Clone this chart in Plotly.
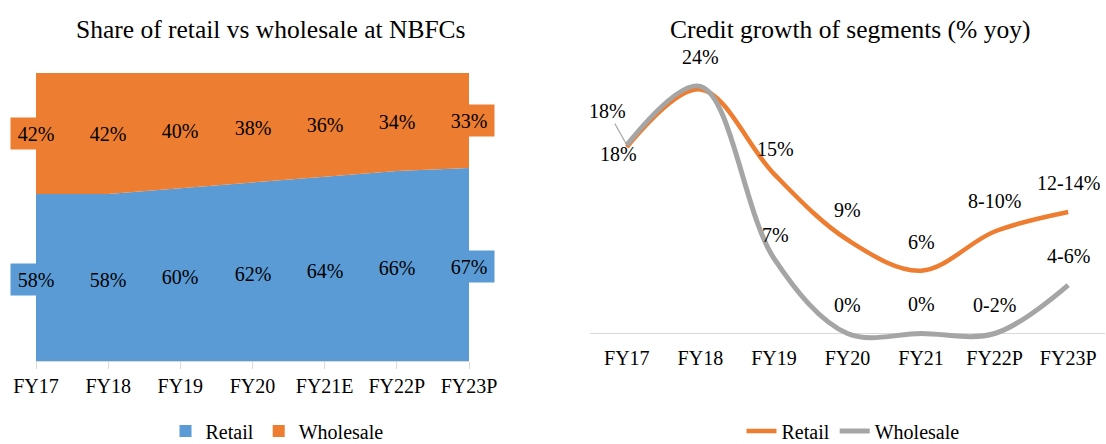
import plotly.graph_objects as go

W, H = 1106, 444
FONT = "Liberation Serif"

# ---- data: left chart (share %) ----
share_years = ["FY17", "FY18", "FY19", "FY20", "FY21E", "FY22P", "FY23P"]
retail_share = [58, 58, 60, 62, 64, 66, 67]
wholesale_share = [42, 42, 40, 38, 36, 34, 33]

# ---- data: right chart (credit growth % yoy) ----
growth_years = ["FY17", "FY18", "FY19", "FY20", "FY21", "FY22P", "FY23P"]
retail_growth = [18.1, 23.7, 15.5, 9.1, 6.1, 9.9, 11.8]
wholesale_growth = [18.3, 24.0, 7.3, 0.0, 0.0, 0.0, 4.7]
retail_labels = ["18%", "", "15%", "9%", "6%", "8-10%", "12-14%"]
wholesale_labels = ["18%", "24%", "7%", "0%", "0%", "0-2%", "4-6%"]

BLUE = "#5B9BD5"
ORANGE = "#ED7D31"
GRAY = "#A5A5A5"


def px_x(p):
    return p / W


def px_y(p):
    return (H - p) / H


fig = go.Figure()

idx_s = list(range(len(share_years)))
fig.add_trace(go.Scatter(x=idx_s, y=retail_share, stackgroup="one", mode="none",
                         fillcolor=BLUE, name="Retail", showlegend=False,
                         hoverinfo="skip", xaxis="x", yaxis="y"))
fig.add_trace(go.Scatter(x=idx_s, y=wholesale_share, stackgroup="one", mode="none",
                         fillcolor=ORANGE, name="Wholesale", showlegend=False,
                         hoverinfo="skip", xaxis="x", yaxis="y"))
# legend entries (square swatches)
fig.add_trace(go.Scatter(x=[None], y=[None], mode="markers", name="Retail",
                         marker=dict(symbol="square", size=12, color=BLUE),
                         legend="legend", xaxis="x", yaxis="y"))
fig.add_trace(go.Scatter(x=[None], y=[None], mode="markers", name="Wholesale",
                         marker=dict(symbol="square", size=12, color=ORANGE),
                         legend="legend", xaxis="x", yaxis="y"))

idx_g = list(range(len(growth_years)))
fig.add_trace(go.Scatter(x=idx_g, y=retail_growth, mode="lines", name="Retail",
                         line=dict(color=ORANGE, width=4.5, shape="spline", smoothing=1),
                         hoverinfo="skip", legend="legend2", xaxis="x2", yaxis="y2"))
fig.add_trace(go.Scatter(x=idx_g, y=wholesale_growth, mode="lines", name="Wholesale",
                         line=dict(color=GRAY, width=5, shape="spline", smoothing=1),
                         hoverinfo="skip", legend="legend2", xaxis="x2", yaxis="y2"))

annotations = []
# titles
annotations.append(dict(text="Share of retail vs wholesale at NBFCs", xref="paper", yref="paper",
                        x=px_x(271), y=px_y(30), xanchor="center", yanchor="middle",
                        showarrow=False, font=dict(family=FONT, size=25.5, color="#000")))
annotations.append(dict(text="Credit growth of segments (% yoy)", xref="paper", yref="paper",
                        x=px_x(850), y=px_y(30), xanchor="center", yanchor="middle",
                        showarrow=False, font=dict(family=FONT, size=25.5, color="#000")))

# area labels
for i, (r, w) in enumerate(zip(retail_share, wholesale_share)):
    annotations.append(dict(text=f"{r}%", x=i, y=r / 2, xref="x", yref="y",
                            showarrow=False, bgcolor=BLUE, width=50, height=31,
                            borderpad=0, yshift=-2,
                            font=dict(family=FONT, size=20, color="#000")))
    annotations.append(dict(text=f"{w}%", x=i, y=r + w / 2, xref="x", yref="y",
                            showarrow=False, bgcolor=ORANGE, width=50, height=31,
                            borderpad=0,
                            font=dict(family=FONT, size=20, color="#000")))

# line labels
ret_shift = {0: (-8, -7), 2: (2, 25), 3: (0, 30), 4: (0, 29), 5: (0, 31), 6: (0, 29)}
for i, t in enumerate(retail_labels):
    if not t:
        continue
    xs, ys = ret_shift[i]
    annotations.append(dict(text=t, x=i, y=retail_growth[i], xref="x2", yref="y2",
                            showarrow=False, xshift=xs, yshift=ys,
                            font=dict(family=FONT, size=20, color="#000")))
whl_shift = {1: (0, 29), 2: (2, 23), 3: (0, 29), 4: (0, 30), 5: (0, 29), 6: (0, 29)}
for i, t in enumerate(wholesale_labels):
    if i == 0:
        annotations.append(dict(text=t, x=i, y=wholesale_growth[i], xref="x2", yref="y2",
                                showarrow=True, ax=-19, ay=-34, arrowhead=0,
                                arrowwidth=1.2, arrowcolor=GRAY,
                                font=dict(family=FONT, size=20, color="#000")))
        continue
    xs, ys = whl_shift[i]
    annotations.append(dict(text=t, x=i, y=wholesale_growth[i], xref="x2", yref="y2",
                            showarrow=False, xshift=xs, yshift=ys,
                            font=dict(family=FONT, size=20, color="#000")))

fig.update_layout(
    width=W, height=H,
    margin=dict(l=0, r=0, t=0, b=0, autoexpand=False),
    paper_bgcolor="white", plot_bgcolor="white",
    font=dict(family=FONT, size=20, color="#000"),
    hovermode=False,
    xaxis=dict(domain=[px_x(36), px_x(469)], range=[0, 6], tickmode="array",
               tickvals=idx_s, ticktext=share_years, showgrid=False, zeroline=False,
               showline=True, linecolor="#D9D9D9", ticks="outside", ticklen=7,
               tickcolor="#D9D9D9", tickfont=dict(family=FONT, size=20, color="#000"),
               anchor="y", fixedrange=True, automargin=False),
    yaxis=dict(domain=[px_y(361), px_y(73)], range=[0, 100], visible=False,
               anchor="x", fixedrange=True),
    xaxis2=dict(domain=[px_x(590), px_x(1105)], range=[-0.5, 6.5], tickmode="array",
                tickvals=idx_g, ticktext=growth_years, showgrid=False, zeroline=False,
                showline=False, ticks="", tickfont=dict(family=FONT, size=20, color="#000"),
                anchor="y2", fixedrange=True, automargin=False),
    yaxis2=dict(domain=[px_y(343.8), px_y(76)], range=[-1, 25], showgrid=False,
                showticklabels=False, ticks="", showline=False, zeroline=True,
                zerolinecolor="#D9D9D9", zerolinewidth=1.3, anchor="x2", fixedrange=True),
    legend=dict(orientation="h", x=px_x(277), y=px_y(431), xanchor="center",
                yanchor="middle", traceorder="normal",
                font=dict(family=FONT, size=20, color="#000"),
                bgcolor="rgba(0,0,0,0)"),
    legend2=dict(orientation="h", x=px_x(853), y=px_y(431), xanchor="center",
                 yanchor="middle", traceorder="normal",
                 font=dict(family=FONT, size=20, color="#000"),
                 bgcolor="rgba(0,0,0,0)"),
    annotations=annotations,
)

fig.write_html(
    "out.html",
    config={"displayModeBar": False},
    post_script="document.body.style.margin='0';document.body.style.padding='0';"
                "document.documentElement.style.overflow='hidden';",
)
